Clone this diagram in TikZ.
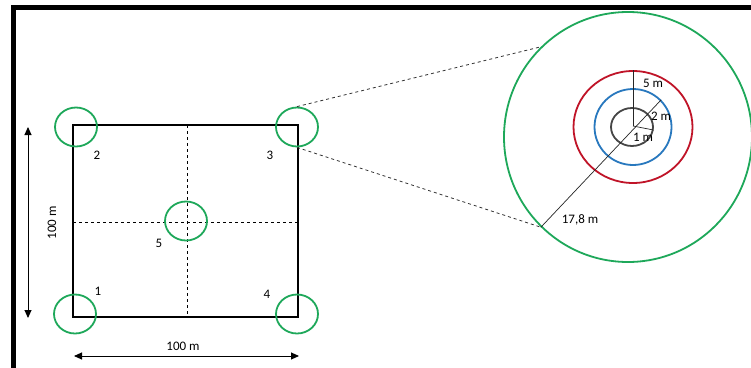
\documentclass[tikz,border=0pt]{standalone}
\usepackage{fontspec}
\setmainfont{Carlito}
\usetikzlibrary{arrows.meta,shapes.geometric}
\definecolor{plotgreen}{RGB}{30,168,90}
\definecolor{ringred}{RGB}{192,20,40}
\definecolor{ringblue}{RGB}{40,120,190}
\definecolor{ringgray}{RGB}{70,70,70}
\tikzset{
  plot/.style={draw=plotgreen, line width=1.8pt, ellipse, inner sep=0pt, minimum width=42pt, minimum height=39pt},
  ring/.style={ellipse, inner sep=0pt, line width=1.8pt},
  lbl/.style={font=\fontsize{13}{15}\selectfont, inner sep=0pt},
  dim/.style={line width=0.9pt, {Triangle[length=8pt,width=7pt]}-{Triangle[length=8pt,width=7pt]}},
  zoomline/.style={dashed, line width=0.8pt, draw=black!80},
  radius line/.style={line width=0.7pt, draw=black!85}
}
\begin{document}
\begin{tikzpicture}[x=1pt,y=-1pt]
\useasboundingbox (0,0) rectangle (751,367);
\clip (0,0) rectangle (751,367);
\fill[white] (0,0) rectangle (751,367);
% frame
\draw[line width=5pt] (13.5,380) -- (13.5,7.5) -- (770,7.5);
% field
\coordinate (sqTL) at (73,125);
\coordinate (sqBR) at (298,317);
\draw[line width=1.4pt] (sqTL) rectangle (sqBR);
\coordinate (mT) at (187,125);
\coordinate (mB) at (187,317);
\coordinate (mL) at (73,222);
\coordinate (mR) at (298,222);
\draw[dashed, line width=0.7pt] (mT) -- (mB);
\draw[dashed, line width=0.7pt] (mL) -- (mR);
% plots
\node[plot] (p2) at (76,127) {};
\node[plot] (p3) at (297,127) {};
\node[plot] (p1) at (75,314) {};
\node[plot] (p4) at (297,314) {};
\node[plot] (p5) at (186,221) {};
\node[lbl] (l2) at (97,155) {2};
\node[lbl] (l3) at (270,155) {3};
\node[lbl] (l5) at (159,243) {5};
\node[lbl] (l1) at (98,291) {1};
\node[lbl] (l4) at (267,294) {4};
% dimensions
\coordinate (vTop) at (28,127);
\coordinate (vBot) at (28,318);
\draw[dim] (vTop) -- (vBot);
\node[lbl, rotate=90] (vl) at (52,223) {100 m};
\coordinate (hL) at (74,356);
\coordinate (hR) at (299,356);
\draw[dim] (hL) -- (hR);
\node[lbl] (hl) at (183,346) {100 m};
% zoom circle
\node[ring, draw=plotgreen, minimum width=248pt, minimum height=250pt] (big) at (628,137) {};
\node[ring, draw=ringred, minimum width=119pt, minimum height=112pt] (red) at (633,127) {};
\node[ring, draw=ringblue, minimum width=77pt, minimum height=76pt] (blue) at (633,127) {};
\node[ring, draw=ringgray, minimum width=42pt, minimum height=38pt] (gray) at (632,127) {};
\coordinate (ctr) at (633,126);
% zoom lines
\draw[zoomline] (p3.north) -- (big.134);
\draw[zoomline] (p3.south) -- (big.226);
% radii
\draw[radius line] (ctr) -- (red.north);
\draw[radius line] (big.226) -- (blue.44);
\draw[radius line] (ctr) -- (gray.-8);
\node[lbl] (r5) at (653,83) {5 m};
\node[lbl] (r2) at (661,116) {2 m};
\node[lbl] (r1) at (643,137) {1 m};
\node[lbl] (r17) at (580,220) {17,8 m};
\end{tikzpicture}
\end{document}
